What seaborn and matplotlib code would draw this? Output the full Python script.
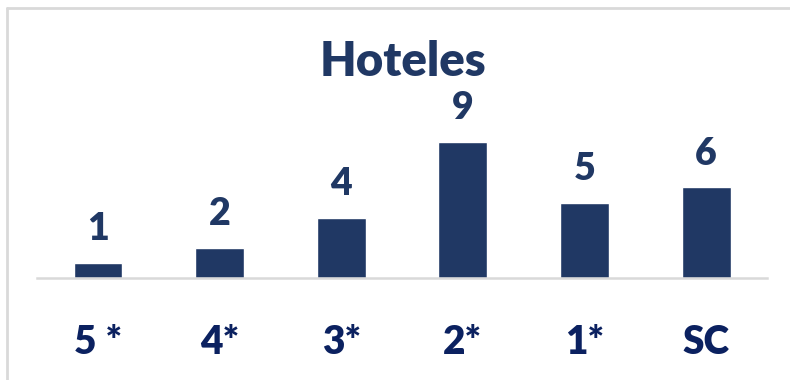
import seaborn as sns
import matplotlib.pyplot as plt
import pandas as pd
from matplotlib.lines import Line2D

# Data
categorias = ['5 *', '4*', '3*', '2*', '1*', 'SC']
hoteles = [1, 2, 4, 9, 5, 6]

df = pd.DataFrame({'Categoria': categorias, 'Hoteles': hoteles})

sns.set_style('white')
plt.rcParams['font.family'] = ['Lato', 'DejaVu Sans']

bar_color = '#203864'
tick_color = '#0B2160'
weight = 'heavy'

fig = plt.figure(figsize=(7.9, 3.8), dpi=100)
ax = fig.add_axes([37 / 790, 102 / 380, 730 / 790, 151 / 380])

sns.barplot(data=df, x='Categoria', y='Hoteles', color=bar_color,
            width=0.4, saturation=1, ax=ax)

ax.set_xlim(-0.5, len(categorias) - 0.5)
ax.set_ylim(0, 10)

# value labels
for i, v in enumerate(hoteles):
    ax.annotate(str(v), (i, v), xytext=(0, 12), textcoords='offset points',
                ha='center', va='bottom', fontsize=27, fontweight=weight,
                color=bar_color)

ax.set_xlabel('')
ax.set_ylabel('')
ax.set_yticks([])
ax.tick_params(axis='x', length=0, pad=33, labelsize=28, labelcolor=tick_color)
for lbl in ax.get_xticklabels():
    lbl.set_fontweight(weight)

for s in ['top', 'right', 'left']:
    ax.spines[s].set_visible(False)
ax.spines['bottom'].set_color('#d9d9d9')
ax.spines['bottom'].set_linewidth(1.8)

fig.text(403 / 790, 1 - 62 / 380, 'Hoteles', ha='center', va='center',
         fontsize=34, fontweight=weight, color=bar_color)

# chart frame (top and left edges only, rest cropped)
fig.add_artist(Line2D([7 / 790, 1], [1 - 8 / 380, 1 - 8 / 380],
                      transform=fig.transFigure, color='#d9d9d9', lw=2))
fig.add_artist(Line2D([7 / 790, 7 / 790], [0, 1 - 8 / 380],
                      transform=fig.transFigure, color='#d9d9d9', lw=2))

fig.savefig('out.png', dpi=100)
